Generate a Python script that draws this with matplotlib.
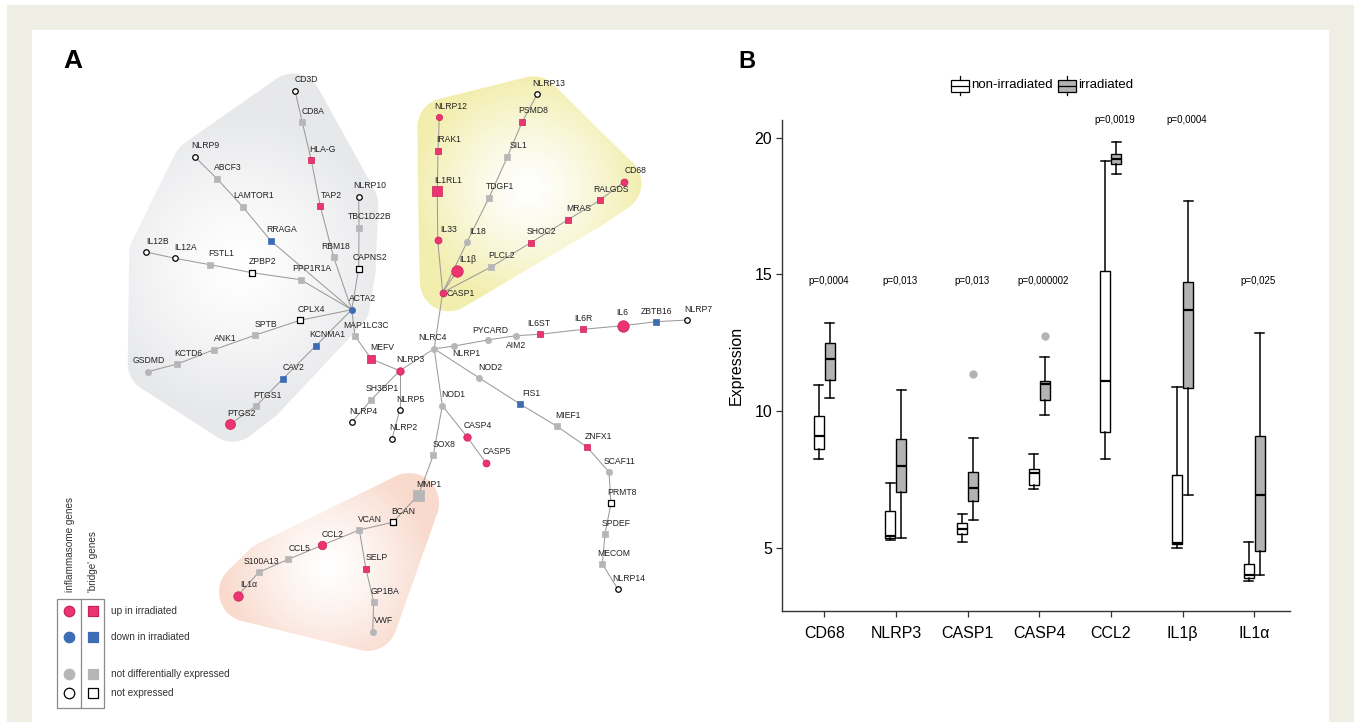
import numpy as np
import matplotlib
matplotlib.use("Agg")
import matplotlib.pyplot as plt
from matplotlib.patches import Polygon, Rectangle

plt.rcParams['font.family'] = ['Liberation Sans', 'DejaVu Sans']

# ---------------- Panel A data: nodes (name, kind, status) ----------------
# kind: 'i' = inflammasome gene (circle), 'b' = bridge gene (square)
# status: 'up', 'down', 'nd' (not differentially expressed), 'ne' (not expressed)
node_names = [
    'CD3D', 'CD8A', 'HLA-G', 'TAP2', 'RBM18', 'NLRP9', 'ABCF3', 'LAMTOR1', 'RRAGA',
    'NLRP10', 'TBC1D22B', 'CAPNS2', 'IL12B', 'IL12A', 'FSTL1', 'ZPBP2', 'PPP1R1A',
    'ACTA2', 'CPLX4', 'SPTB', 'ANK1', 'KCTD6', 'GSDMD', 'KCNMA1', 'CAV2', 'PTGS1',
    'PTGS2', 'MAP1LC3C', 'MEFV', 'NLRP3', 'SH3BP1', 'NLRP4', 'NLRP5', 'NLRP2', 'NLRC4',
    'NLRP13', 'NLRP12', 'PSMD8', 'IRAK1', 'SIL1', 'CD68', 'IL1RL1', 'TDGF1', 'RALGDS',
    'MRAS', 'IL33', 'IL18', 'SHOC2', 'IL1β', 'PLCL2', 'CASP1',
    'NLRP1', 'PYCARD', 'AIM2', 'IL6ST', 'IL6R', 'IL6', 'ZBTB16', 'NLRP7',
    'NOD2', 'FIS1', 'MIEF1', 'ZNFX1', 'SCAF11', 'PRMT8', 'SPDEF', 'MECOM', 'NLRP14',
    'NOD1', 'CASP4', 'CASP5', 'SOX8',
    'MMP1', 'BCAN', 'VCAN', 'CCL2', 'CCL5', 'S100A13', 'IL1α', 'SELP', 'GP1BA', 'VWF',
]
node_kind = [
    'i', 'b', 'b', 'b', 'b', 'i', 'b', 'b', 'b',
    'i', 'b', 'b', 'i', 'i', 'b', 'b', 'b',
    'i', 'b', 'b', 'b', 'b', 'i', 'b', 'b', 'b',
    'i', 'b', 'b', 'i', 'b', 'i', 'i', 'i', 'i',
    'i', 'i', 'b', 'b', 'b', 'i', 'b', 'b', 'b',
    'b', 'i', 'i', 'b', 'i', 'b', 'i',
    'i', 'i', 'i', 'b', 'b', 'i', 'b', 'i',
    'i', 'b', 'b', 'b', 'i', 'b', 'b', 'b', 'i',
    'i', 'i', 'i', 'b',
    'b', 'b', 'b', 'i', 'b', 'b', 'i', 'b', 'b', 'i',
]
node_status = [
    'ne', 'nd', 'up', 'up', 'nd', 'ne', 'nd', 'nd', 'down',
    'ne', 'nd', 'ne', 'ne', 'ne', 'nd', 'ne', 'nd',
    'down', 'ne', 'nd', 'nd', 'nd', 'nd', 'down', 'down', 'nd',
    'up', 'nd', 'up', 'up', 'nd', 'ne', 'ne', 'ne', 'nd',
    'ne', 'up', 'up', 'up', 'nd', 'up', 'up', 'nd', 'up',
    'up', 'up', 'nd', 'up', 'up', 'nd', 'up',
    'nd', 'nd', 'nd', 'up', 'up', 'up', 'down', 'ne',
    'nd', 'down', 'nd', 'up', 'nd', 'ne', 'nd', 'nd', 'ne',
    'nd', 'up', 'up', 'nd',
    'nd', 'ne', 'nd', 'up', 'nd', 'nd', 'up', 'up', 'nd', 'nd',
]

# edges as chains of connected genes
edge_chains = [
    ['CD3D', 'CD8A', 'HLA-G', 'TAP2', 'RBM18', 'ACTA2'],
    ['NLRP9', 'ABCF3', 'LAMTOR1', 'RRAGA', 'ACTA2'],
    ['NLRP10', 'TBC1D22B', 'CAPNS2', 'ACTA2'],
    ['IL12B', 'IL12A', 'FSTL1', 'ZPBP2', 'PPP1R1A', 'ACTA2'],
    ['GSDMD', 'KCTD6', 'ANK1', 'SPTB', 'CPLX4', 'ACTA2'],
    ['PTGS2', 'PTGS1', 'CAV2', 'KCNMA1', 'ACTA2'],
    ['ACTA2', 'MAP1LC3C', 'MEFV', 'NLRP3', 'NLRC4'],
    ['NLRP3', 'SH3BP1', 'NLRP4'],
    ['NLRP3', 'NLRP5', 'NLRP2'],
    ['NLRC4', 'CASP1', 'IL33', 'IL1RL1', 'IRAK1', 'NLRP12'],
    ['CASP1', 'IL1β'],
    ['CASP1', 'IL18', 'TDGF1', 'SIL1', 'PSMD8', 'NLRP13'],
    ['CASP1', 'PLCL2', 'SHOC2', 'MRAS', 'RALGDS', 'CD68'],
    ['NLRC4', 'NLRP1', 'PYCARD', 'AIM2', 'IL6ST', 'IL6R', 'IL6', 'ZBTB16', 'NLRP7'],
    ['NLRC4', 'NOD2', 'FIS1', 'MIEF1', 'ZNFX1', 'SCAF11', 'PRMT8', 'SPDEF', 'MECOM', 'NLRP14'],
    ['NLRC4', 'NOD1', 'CASP4', 'CASP5'],
    ['NOD1', 'SOX8', 'MMP1', 'BCAN', 'VCAN'],
    ['VCAN', 'CCL2', 'CCL5', 'S100A13', 'IL1α'],
    ['VCAN', 'SELP', 'GP1BA', 'VWF'],
]

# gene groups highlighted by shaded regions
group_gray = ['CD3D', 'CD8A', 'HLA-G', 'TAP2', 'RBM18', 'NLRP9', 'ABCF3', 'LAMTOR1', 'RRAGA',
              'NLRP10', 'TBC1D22B', 'CAPNS2', 'IL12B', 'IL12A', 'FSTL1', 'ZPBP2', 'PPP1R1A',
              'ACTA2', 'CPLX4', 'SPTB', 'ANK1', 'KCTD6', 'GSDMD', 'KCNMA1', 'CAV2', 'PTGS1', 'PTGS2']
group_yellow = ['NLRP13', 'NLRP12', 'PSMD8', 'IRAK1', 'SIL1', 'CD68', 'IL1RL1', 'TDGF1', 'RALGDS',
                'MRAS', 'IL33', 'IL18', 'SHOC2', 'IL1β', 'PLCL2', 'CASP1']
group_salmon = ['MMP1', 'BCAN', 'VCAN', 'CCL2', 'CCL5', 'S100A13', 'IL1α', 'SELP', 'GP1BA', 'VWF']

legend_status_labels = ['up in irradiated', 'down in irradiated',
                        'not differentially expressed', 'not expressed']

# ---------------- Panel B data ----------------
categories = ['CD68', 'NLRP3', 'CASP1', 'CASP4', 'CCL2', 'IL1β', 'IL1α']

nonirr_whislo = [8.24, 5.27, 5.22, 7.15, 8.26, 4.99, 3.78]
nonirr_q1 = [8.62, 5.35, 5.50, 7.31, 9.23, 5.14, 3.88]
nonirr_med = [9.10, 5.45, 5.68, 7.74, 11.09, 5.18, 4.02]
nonirr_q3 = [9.82, 6.33, 5.92, 7.90, 15.14, 7.68, 4.42]
nonirr_whishi = [10.97, 7.36, 6.24, 8.45, 19.15, 10.88, 5.21]

irr_whislo = [10.49, 5.35, 6.01, 9.85, 18.68, 6.95, 4.02]
irr_q1 = [11.14, 7.05, 6.72, 10.40, 19.03, 10.86, 4.90]
irr_med = [11.92, 8.01, 7.18, 10.98, 19.21, 13.71, 6.92]
irr_q3 = [12.50, 8.98, 7.78, 11.12, 19.42, 14.72, 9.09]
irr_whishi = [13.21, 10.79, 9.03, 11.99, 19.84, 17.70, 12.87]
irr_outliers = [[], [], [11.36], [12.75], [], [], []]

p_values = ['p=0,0004', 'p=0,013', 'p=0,013', 'p=0,000002', 'p=0,0019', 'p=0,0004', 'p=0,025']

# ---------------- Layout (figure pixel coordinates, y downward) ----------------
layout = {
    'CD3D': (295, 90.7), 'CD8A': (302.3, 122.3), 'HLA-G': (311.3, 160.3), 'TAP2': (320.3, 206.3),
    'RBM18': (333.7, 257.3), 'NLRP9': (194.7, 156.7), 'ABCF3': (217, 178.7),
    'LAMTOR1': (242.7, 206.7), 'RRAGA': (271, 241), 'NLRP10': (358.7, 196.7),
    'TBC1D22B': (359, 227.7), 'CAPNS2': (358.7, 268.7), 'IL12B': (146.3, 252),
    'IL12A': (174.7, 258.3), 'FSTL1': (210, 264.7), 'ZPBP2': (252, 272.7),
    'PPP1R1A': (300.7, 279.7), 'ACTA2': (351.7, 309.7), 'CPLX4': (300, 320.3),
    'SPTB': (254.7, 335.3), 'ANK1': (214, 349.7), 'KCTD6': (177.3, 364), 'GSDMD': (147.7, 371.7),
    'KCNMA1': (316, 345.7), 'CAV2': (283, 378.7), 'PTGS1': (256, 406), 'PTGS2': (230, 424.3),
    'MAP1LC3C': (355, 336), 'MEFV': (371.3, 359), 'NLRP3': (399.7, 370.7),
    'SH3BP1': (371.3, 399.7), 'NLRP4': (352, 422), 'NLRP5': (399.7, 410), 'NLRP2': (392, 439),
    'NLRC4': (434.2, 348.8),
    'NLRP13': (537.3, 94), 'NLRP12': (439.3, 117.3), 'PSMD8': (522.3, 121.7),
    'IRAK1': (438, 150.7), 'SIL1': (507.3, 157), 'CD68': (624.3, 181.7),
    'IL1RL1': (437.3, 191.3), 'TDGF1': (489, 197.7), 'RALGDS': (599.7, 200.3),
    'MRAS': (568, 219.7), 'IL33': (437.7, 240.3), 'IL18': (467, 242), 'SHOC2': (530.7, 242.7),
    'IL1β': (457, 271), 'PLCL2': (491, 267), 'CASP1': (442.7, 292.5),
    'NLRP1': (454.3, 346), 'PYCARD': (487.7, 340), 'AIM2': (515.7, 335.7),
    'IL6ST': (539.7, 334.3), 'IL6R': (583.3, 329.3), 'IL6': (622.7, 325.7),
    'ZBTB16': (656.3, 321.7), 'NLRP7': (687.3, 320),
    'NOD2': (479.3, 378), 'FIS1': (520, 404), 'MIEF1': (557, 426.3), 'ZNFX1': (587.2, 447.2),
    'SCAF11': (609, 472), 'PRMT8': (611, 503.3), 'SPDEF': (605, 534), 'MECOM': (602.3, 564),
    'NLRP14': (618, 589.3),
    'NOD1': (442.3, 405.7), 'CASP4': (467, 436.7), 'CASP5': (486, 463), 'SOX8': (433.3, 455.3),
    'MMP1': (418.3, 495.3), 'BCAN': (392.7, 522.3), 'VCAN': (359.3, 530), 'CCL2': (322, 545.3),
    'CCL5': (288.3, 559.3), 'S100A13': (258.7, 572.3), 'IL1α': (237.7, 595.7),
    'SELP': (366, 569), 'GP1BA': (373.7, 602), 'VWF': (372.7, 631.7),
}
label_offsets = {
    'RBM18': (2, -10.5), 'GSDMD': (1, -11), 'NLRC4': (-2, -11.3),
    'CASP1': (18, 1), 'NLRP1': (12.5, 8), 'PYCARD': (2.3, -9.7), 'AIM2': (0.7, 9.3),
    'IL6ST': (-0.7, -10.3), 'IL6R': (-0.3, -10.7), 'IL6': (0, -13.3), 'ZBTB16': (0, -10.3),
    'S100A13': (3, -11.3),
}
big_nodes = {'PTGS2': 10, 'IL1β': 11.5, 'IL6': 11.5, 'IL1α': 9.5, 'CCL2': 8.5,
             'IL1RL1': 9.5, 'MMP1': 11, 'MEFV': 8, 'NLRP3': 7.5, 'CASP4': 7.5,
             'CASP1': 7, 'CD68': 7, 'IL33': 7, 'CASP5': 7}

status_face = {'up': '#eb3572', 'down': '#3d6cb4', 'nd': '#b6b6b8', 'ne': 'white'}
status_edge = {'up': '#c92257', 'down': '#3d6cb4', 'nd': '#b6b6b8', 'ne': 'black'}


def convex_hull(points):
    pts = sorted(map(tuple, points))

    def cross(o, a, b):
        return (a[0] - o[0]) * (b[1] - o[1]) - (a[1] - o[1]) * (b[0] - o[0])
    lower, upper = [], []
    for p in pts:
        while len(lower) >= 2 and cross(lower[-2], lower[-1], p) <= 0:
            lower.pop()
        lower.append(p)
    for p in reversed(pts):
        while len(upper) >= 2 and cross(upper[-2], upper[-1], p) <= 0:
            upper.pop()
        upper.append(p)
    return np.array(lower[:-1] + upper[:-1])


def draw_region(ax, names, buffer, color, center, radius):
    # rounded hull: hull of an inner hull buffered by a larger circle
    pts = np.array([layout[n] for n in names])
    inner = convex_hull(pts)
    ang = np.linspace(0, 2 * np.pi, 60, endpoint=False)
    ring = np.stack([np.cos(ang), np.sin(ang)], 1)
    # pull vertices toward the centroid, then pad back out with a larger radius
    cen = pts.mean(0)
    shrink = 12
    d = inner - cen
    dn = d / np.linalg.norm(d, axis=1, keepdims=True)
    core = inner - dn * shrink
    cloud = (core[:, None, :] + ring[None] * (buffer + shrink)).reshape(-1, 2)
    hull = convex_hull(cloud)
    x0, y0 = hull.min(0) - 2
    x1, y1 = hull.max(0) + 2
    xs = np.linspace(x0, x1, 300)
    ys = np.linspace(y0, y1, 300)
    gx, gy = np.meshgrid(xs, ys)
    t = np.clip(np.hypot(gx - center[0], gy - center[1]) / radius, 0, 1) ** 1.3
    c = np.array(matplotlib.colors.to_rgb(color))
    rgb = (1 - t)[..., None] * np.ones(3) + t[..., None] * c
    im = ax.imshow(rgb, extent=(x0, x1, y0, y1), origin='lower', zorder=1,
                   interpolation='bilinear', aspect='auto')
    patch = Polygon(hull, closed=True, fc='none', ec='none', zorder=1)
    ax.add_patch(patch)
    im.set_clip_path(patch)


def ms(px):
    return (px * 0.72) ** 2


fig = plt.figure(figsize=(13.57, 7.22), dpi=100, facecolor='white')
ax = fig.add_axes([0, 0, 1, 1])
ax.set_axis_off()

# page background
ax.add_patch(Rectangle((7, 5), 1347, 720, fc='#eeeee4', ec='none', zorder=0))
ax.add_patch(Rectangle((32, 30), 1297, 695, fc='white', ec='none', zorder=0.5))

# ---------------- Panel A ----------------
draw_region(ax, group_gray, 17, '#e7e8ea', (240, 265), 150)
draw_region(ax, group_yellow, 17, '#f2eeae', (528, 190), 115)
draw_region(ax, group_salmon, 18, '#f9dacd', (328, 567), 105)

for chain in edge_chains:
    for a, b in zip(chain[:-1], chain[1:]):
        ax.plot([layout[a][0], layout[b][0]], [layout[a][1], layout[b][1]],
                color='#9b9b9b', lw=0.75, zorder=2)

for name, kind, status in zip(node_names, node_kind, node_status):
    x, y = layout[name]
    if name in big_nodes:
        size = big_nodes[name]
    elif status == 'ne':
        size = 5.5
    elif kind == 'b':
        size = 6.2
    else:
        size = 6.3
    ax.scatter([x], [y], s=ms(size), marker='o' if kind == 'i' else 's',
               facecolor=status_face[status], edgecolor=status_edge[status],
               linewidth=0.9 if status == 'ne' else 0.5, zorder=3)
    dx, dy = label_offsets.get(name, (11, -11))
    ax.text(x + dx, y + dy, name, fontsize=6.2, color='#222222',
            ha='center', va='center', zorder=4)

ax.text(73, 61, 'A', fontsize=19, fontweight='bold', ha='center', va='center')

# legend of panel A
ax.add_patch(Rectangle((56.7, 599.3), 47.6, 109, fc='none', ec='#8a8a8a', lw=0.9, zorder=3))
ax.plot([80.5, 80.5], [599.3, 708.3], color='#8a8a8a', lw=0.9, zorder=3)
ax.text(70, 592, 'inflammasome genes', rotation=90, fontsize=7.2, ha='center', va='bottom',
        color='#333333')
ax.text(92.5, 592, "'bridge' genes", rotation=90, fontsize=7.2, ha='center', va='bottom',
        color='#333333')
legend_rows = [611, 636.7, 674.3, 693.3]
for status, row_y, lab in zip(['up', 'down', 'nd', 'ne'], legend_rows, legend_status_labels):
    ax.scatter([69], [row_y], s=ms(10.5), marker='o', facecolor=status_face[status],
               edgecolor=status_edge[status], linewidth=0.9, zorder=4)
    ax.scatter([92.7], [row_y], s=ms(10.5), marker='s', facecolor=status_face[status],
               edgecolor=status_edge[status], linewidth=0.9, zorder=4)
    ax.text(111, row_y, lab, fontsize=7.2, ha='left', va='center', color='#333333')

# ---------------- Panel B ----------------
ax.text(747, 62, 'B', fontsize=17, fontweight='bold', ha='center', va='center')

# legend keys
for x0, fc, lab in [(951, 'white', 'non-irradiated'), (1058, '#b3b3b3', 'irradiated')]:
    ax.add_patch(Rectangle((x0, 79.5), 17.5, 12, fc=fc, ec='black', lw=0.9, zorder=3))
    ax.plot([x0, x0 + 17.5], [85.5, 85.5], color='black', lw=0.9, zorder=4)
    ax.plot([x0 + 8.75, x0 + 8.75], [76, 79.5], color='black', lw=0.9, zorder=4)
    ax.plot([x0 + 8.75, x0 + 8.75], [91.5, 95], color='black', lw=0.9, zorder=4)
    ax.text(x0 + 20.5, 85.5, lab, fontsize=9.5, ha='left', va='center')

ax.set_xlim(0, 1357)
ax.set_ylim(722, 0)

bx = fig.add_axes([782 / 1357, 1 - 610.7 / 722, (1290 - 782) / 1357, (610.7 - 120) / 722])
bx.patch.set_alpha(0)
pos = np.arange(1, len(categories) + 1)
offset = 0.077
width = 0.14

stats_non = [dict(whislo=a, q1=b, med=c, q3=d, whishi=e, fliers=[])
             for a, b, c, d, e in zip(nonirr_whislo, nonirr_q1, nonirr_med, nonirr_q3, nonirr_whishi)]
stats_irr = [dict(whislo=a, q1=b, med=c, q3=d, whishi=e, fliers=f)
             for a, b, c, d, e, f in zip(irr_whislo, irr_q1, irr_med, irr_q3, irr_whishi, irr_outliers)]

common = dict(widths=width, capwidths=width * 0.9, patch_artist=True, manage_ticks=False,
              whiskerprops=dict(color='black', lw=1.1),
              capprops=dict(color='black', lw=1.1),
              medianprops=dict(color='black', lw=1.6),
              flierprops=dict(marker='o', markerfacecolor='#b3b3b3', markeredgecolor='none',
                              markersize=6))
bx.bxp(stats_non, positions=pos - offset,
       boxprops=dict(facecolor='white', edgecolor='black', lw=1.0), **common)
bx.bxp(stats_irr, positions=pos + offset,
       boxprops=dict(facecolor='#b3b3b3', edgecolor='black', lw=1.0), **common)

p_label_y = [14.75, 14.75, 14.75, 14.75, 20.65, 20.65, 14.75]
for xi, txt, yy in zip(pos, p_values, p_label_y):
    bx.text(xi + 0.06, yy, txt, fontsize=7, ha='center', va='center', clip_on=False)

bx.set_xlim(0.41, 7.5)
bx.set_ylim(2.7, 20.65)
bx.set_xticks(pos)
bx.set_xticklabels(categories, fontsize=11.5)
bx.set_yticks([5, 10, 15, 20])
bx.set_yticklabels(['5', '10', '15', '20'], fontsize=11.5)
bx.tick_params(axis='both', length=4, width=0.9, pad=3, color='#333333')
bx.tick_params(axis='x', pad=7)
bx.set_ylabel('Expression', fontsize=11.5, labelpad=8)
for side in ['top', 'right']:
    bx.spines[side].set_visible(False)
for side in ['left', 'bottom']:
    bx.spines[side].set_linewidth(1.0)
    bx.spines[side].set_color('#333333')

fig.savefig('out.png', dpi=100, facecolor='white')
